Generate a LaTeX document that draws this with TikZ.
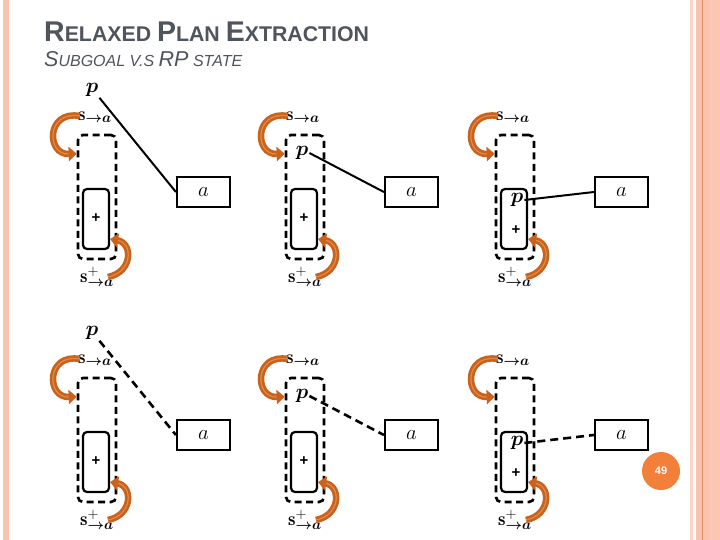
\documentclass[tikz,border=0pt]{standalone}
\usepackage{fontspec}
\usepackage{amsmath}
\usepackage{bm}
\usetikzlibrary{arrows.meta}
\newfontfamily\titlefont{Liberation Sans}
\definecolor{titlegray}{HTML}{4F555D}
\definecolor{stripe}{HTML}{F8C4B0}
\definecolor{stripelight}{HTML}{FBD6C8}
\definecolor{stripeline}{HTML}{E09068}
\definecolor{stripeb}{HTML}{FCC6B2}
\definecolor{orarrowc}{HTML}{C8621C}
\definecolor{orlight}{HTML}{EE9A5E}
\definecolor{pageorange}{HTML}{F27F3A}
\tikzset{
 dashbox/.style={draw, line width=2.6pt, dash pattern=on 7pt off 4.5pt, rounded corners=5pt, minimum width=38pt, minimum height=124pt, inner sep=0pt},
 innerbox/.style={draw, line width=2.2pt, rounded corners=4pt, minimum width=26pt, minimum height=60pt, inner sep=0pt},
 abox/.style={draw, line width=2.2pt, minimum width=53pt, minimum height=30pt, inner sep=0pt, font=\fontsize{20}{20}\selectfont},
 lbl/.style={inner sep=1pt, font=\fontsize{19}{19}\selectfont},
 plbl/.style={inner sep=1pt, font=\fontsize{20}{20}\selectfont},
 plus/.style={inner sep=0pt, font=\titlefont\bfseries\fontsize{15}{15}\selectfont},
 link/.style={line width=2pt},
 dlink/.style={line width=2.6pt, dash pattern=on 8pt off 5pt},
 orarrow/.style={line width=6.5pt, color=orarrowc, -{Triangle[length=8pt,width=14pt]}},
 orhl/.style={line width=1.2pt, color=orlight, opacity=0.7, shorten >=8pt},
}
\newcommand\drawpanel[7]{%
\begin{scope}[shift={(#2,#3)}]
 \node[dashbox] (d#1) at (97,197) {};
 \node[innerbox] (i#1) at (96,219) {};
 \node[plus] (plus#1) at #7 {+};
 \node[lbl] (s#1) at (95,117) {$\mathbf{s}_{\boldsymbol{\to a}}$};
 \node[lbl] (sp#1) at (97,277) {$\mathbf{s}^{+}_{\boldsymbol{\to a}}$};
 \node[plbl] (p#1) at #4 {$\bm{p}$};
 \node[abox] (a#1) at (203.5,192) {$a$};
 \draw[#5] (p#1.#6) -- (a#1.west);
 \coordinate (tt#1) at (80,116);
 \coordinate (bt#1) at (108,277);
 \draw[orarrow] (tt#1) .. controls (46,110) and (46,155) .. ([yshift=-20pt]d#1.north west);
 \draw[orhl] (tt#1) .. controls (46,110) and (46,155) .. ([yshift=-20pt]d#1.north west);
 \draw[orarrow] (bt#1) .. controls (133,272) and (133,243) .. ([yshift=-20pt]i#1.east);
 \draw[orhl] (bt#1) .. controls (133,272) and (133,243) .. ([yshift=-20pt]i#1.east);
\end{scope}}
\begin{document}
\begin{tikzpicture}[x=1pt,y=-1pt]
\useasboundingbox (0,0) rectangle (720,540);
\fill[white] (0,0) rectangle (720,540);
% side stripes
\fill[stripe] (3,0) rectangle (9,540);
\fill[stripelight] (690,0) rectangle (692.5,540);
\fill[stripe] (696,0) rectangle (709,540);
\fill[stripeb] (709,0) rectangle (720,540);
\draw[stripeline, line width=1pt] (702.5,0) -- (702.5,540);
% titles
\node[anchor=base west, inner sep=0pt, text=titlegray] (title) at (44,42)
 {\titlefont\bfseries{\fontsize{28.5}{28}\selectfont R}{\fontsize{21.3}{21}\selectfont ELAXED }{\fontsize{28.5}{28}\selectfont P}{\fontsize{21.3}{21}\selectfont LAN }{\fontsize{28.5}{28}\selectfont E}{\fontsize{21.3}{21}\selectfont XTRACTION}};
\node[anchor=base west, inner sep=0pt, text=titlegray] (subtitle) at (44,67)
 {\titlefont\itshape{\fontsize{21.5}{21}\selectfont S}{\fontsize{16}{16}\selectfont UBGOAL V.S }{\fontsize{21.5}{21}\selectfont RP}{\fontsize{16}{16}\selectfont\ STATE}};
% panels
\drawpanel{1}{0}{0}{(92,90)}{link}{south east}{(96,218)}
\drawpanel{2}{208}{0}{(94,153)}{link}{east}{(96,218)}
\drawpanel{3}{418}{0}{(99,200)}{link}{east}{(98,230)}
\drawpanel{4}{0}{243}{(92,90)}{dlink}{south east}{(96,218)}
\drawpanel{5}{208}{243}{(94,153)}{dlink}{east}{(96,218)}
\drawpanel{6}{418}{243}{(99,200)}{dlink}{east}{(98,230)}
% page number
\node[circle, fill=pageorange, minimum size=38pt, inner sep=0pt, text=white, font=\titlefont\bfseries\fontsize{11}{11}\selectfont] (pg) at (661,471) {49};
\end{tikzpicture}
\end{document}
